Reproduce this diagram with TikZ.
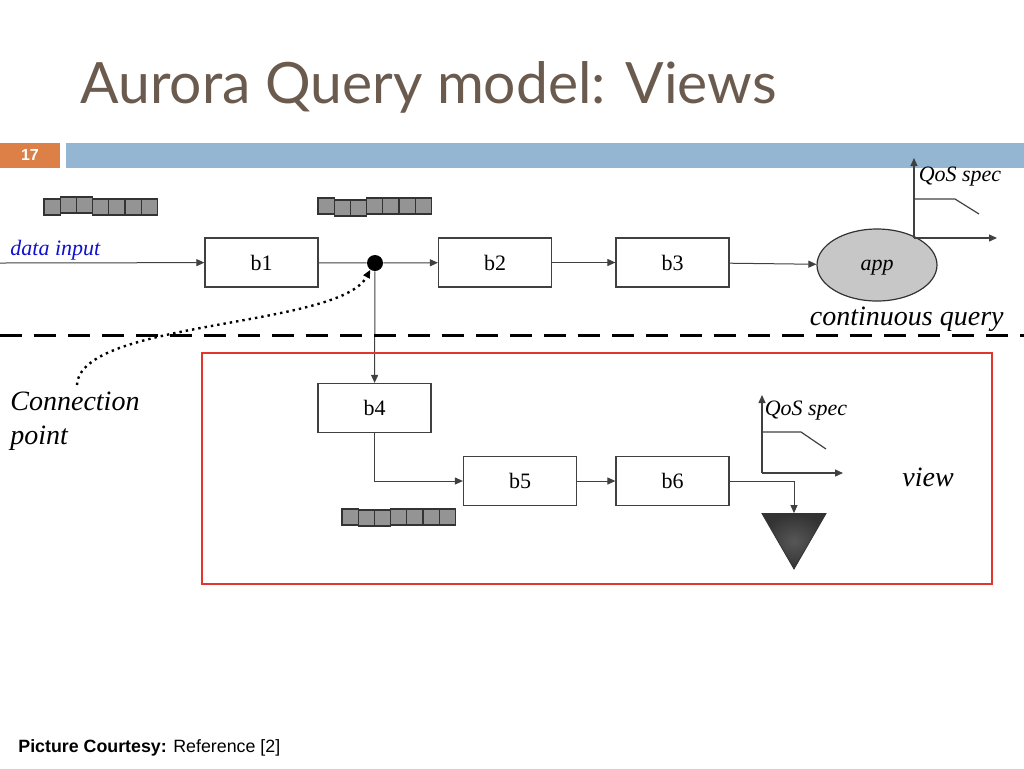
\documentclass[tikz,border=0pt]{standalone}
\usepackage{fontspec}
\setmainfont{Liberation Serif}
\setsansfont{Liberation Sans}
\newfontfamily\titlefont{Lato}
\usetikzlibrary{arrows.meta,shapes.geometric}
\definecolor{titlegray}{HTML}{6B5B4E}
\definecolor{slideorange}{HTML}{DD8047}
\definecolor{slideblue}{HTML}{94B6D2}
\definecolor{viewred}{HTML}{E2352B}
\definecolor{inputblue}{HTML}{1010D0}
\definecolor{linegray}{HTML}{404040}

\begin{document}
\begin{tikzpicture}[x=0.5pt,y=-0.5pt]
	\tikzstyle{every node}+=[inner sep=0pt]
	\tikzstyle{blockbox}=[draw=linegray,line width=0.6pt,minimum width=56.5pt,minimum height=24.5pt,font=\fontsize{11}{13}\selectfont]
	\tikzstyle{flow}=[draw=linegray,line width=0.5pt,-{Triangle[length=4pt,width=3.5pt]}]
	\tikzstyle{axis}=[draw=linegray,line width=0.6pt]
	\tikzstyle{qcell}=[draw=black!80,fill=black!42,line width=0.6pt]
	\tikzstyle{label}=[font=\fontsize{14}{17}\selectfont\itshape]
	\useasboundingbox (0,0) rectangle (1024,768);
	\node[anchor=base west,text=titlegray,font=\titlefont\fontsize{28.5}{32}\selectfont] (title) at (80,103) {Aurora Query model: Views};
	\fill[slideorange] (0,143) rectangle (60,168);
	\node[text=white,font=\sffamily\bfseries\fontsize{8}{10}\selectfont] (slideno) at (30,155) {17};
	\fill[slideblue] (66,143) rectangle (1024,168);
	\foreach \dy [count=\i from 0] in {0,-2,-2,0,0,0,0} {
		\draw[qcell] (44+16.2*\i,199+\dy) rectangle +(16.2,16);
	}
	\foreach \dy [count=\i from 0] in {0,2,2,0,0,0,0} {
		\draw[qcell] (318+16.2*\i,198+\dy) rectangle +(16.2,16);
	}
	\foreach \dy [count=\i from 0] in {0,1,1,0,0,0,0} {
		\draw[qcell] (342+16.2*\i,509+\dy) rectangle +(16.2,16);
	}
	\coordinate (src) at (0,263);
	\node[anchor=base west,text=inputblue,font=\fontsize{11}{13}\selectfont\itshape] (datain) at (10,255) {data input};
	\node[blockbox] (b1) at (261.5,262.5) {b1};
	\node[blockbox] (b2) at (495,262.5) {b2};
	\node[blockbox] (b3) at (672.5,262.5) {b3};
	\node[circle,fill=black,minimum size=8pt] (cp) at (375,263) {};
	\node[ellipse,draw=black!80,fill=black!22,line width=0.6pt,minimum width=60pt,minimum height=36pt,text depth=0pt,font=\fontsize{11}{13}\selectfont\itshape] (app) at (877,265) {app};
	\node[blockbox] (b4) at (374.5,408) {b4};
	\node[blockbox] (b5) at (520,481) {b5};
	\node[blockbox] (b6) at (672.5,481) {b6};
	\node[regular polygon,regular polygon sides=3,shape border rotate=180,minimum size=37pt,draw=black!80,inner color=black!66,outer color=black!80] (sink) at (794,532) {};
	\draw[flow] (src) -- (b1);
	\draw[draw=linegray,line width=0.5pt] (b1) -- (cp);
	\draw[flow] (cp) -- (b2);
	\draw[flow] (b2) -- (b3);
	\draw[flow] (b3) -- (app);
	\draw[flow] (cp) -- (b4);
	\draw[flow] (b4.south) |- (b5.west);
	\draw[flow] (b5) -- (b6);
	\draw[flow] (b6.east) -| (sink.north);
	\draw[axis,-{Triangle[length=4pt,width=3.5pt]}] (914,238) -- (914,158);
	\draw[axis,-{Triangle[length=4pt,width=3.5pt]}] (914,238) -- (997,238);
	\draw[axis] (914,199) -- (955,199) -- (979,214);
	\node[font=\fontsize{11}{13}\selectfont\itshape] (qos1) at (960,177) {QoS spec};
	\draw[axis,-{Triangle[length=4pt,width=3.5pt]}] (762,473) -- (762,395);
	\draw[axis,-{Triangle[length=4pt,width=3.5pt]}] (762,473) -- (843,473);
	\draw[axis] (762,432) -- (801,432) -- (826,449);
	\node[font=\fontsize{11}{13}\selectfont\itshape] (qos2) at (806,411) {QoS spec};
	\node[label,anchor=base east] (cq) at (1004,325) {continuous query};
	\draw[black,line width=1.5pt,dash pattern=on 11pt off 6pt] (0,335) -- (1024,335);
	\draw[viewred,line width=1.25pt] (202,353) rectangle (992,584);
	\node[label,anchor=base west] (view) at (902,486) {view};
	\node[label,anchor=north west,align=left] (conn) at (10,392) {Connection\\point};
	\coordinate (cstart) at (77,385);
	\draw[line width=1.2pt,dotted,-{Triangle[length=4pt,width=3.5pt]}] (cstart) .. controls (80,320) and (340,328) .. (cp.-125);
	\node[anchor=base west,font=\sffamily\fontsize{8.9}{11}\selectfont] (credit) at (18,752) {\textbf{Picture Courtesy:} Reference [2]};
\end{tikzpicture}
\end{document}
